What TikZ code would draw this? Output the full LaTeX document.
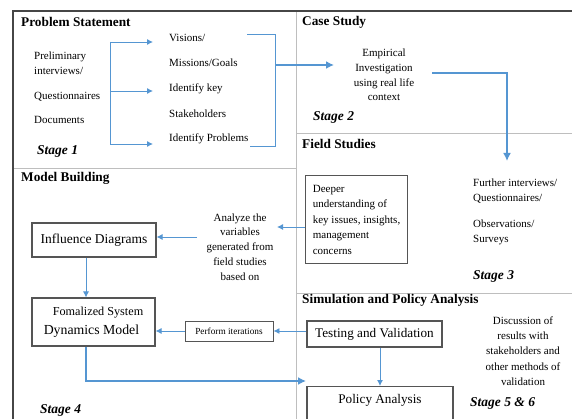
\documentclass[tikz,border=0pt]{standalone}
\usepackage{fontspec}
\setmainfont{Liberation Serif}
\usetikzlibrary{arrows.meta}
\definecolor{ablue}{RGB}{85,150,210}
\definecolor{boxgray}{RGB}{85,85,85}
\definecolor{divgray}{RGB}{190,190,190}
\definecolor{framegray}{RGB}{70,70,70}
\tikzset{
  title/.style={font=\fontsize{13.3}{15}\selectfont\bfseries, anchor=west, inner sep=0pt},
  stagelbl/.style={font=\fontsize{13.5}{15}\selectfont\bfseries\itshape, anchor=west, inner sep=0pt},
  txt/.style={font=\fontsize{11}{13}\selectfont, anchor=west, inner sep=0pt},
  ctxt/.style={font=\fontsize{11}{14.8}\selectfont, align=center, inner sep=0pt},
  box/.style={draw=boxgray, line width=1.1pt, inner sep=0pt},
  thinarrow/.style={draw=ablue, line width=0.9pt, -{Latex[length=6pt,width=6pt]}},
  thickarrow/.style={draw=ablue, line width=2pt, -{Latex[length=8pt,width=8pt]}},
  thinline/.style={draw=ablue, line width=0.9pt},
  divider/.style={draw=divgray, line width=0.9pt},
}
\begin{document}
\begin{tikzpicture}[x=1pt,y=-1pt]
\useasboundingbox (0,0) rectangle (572,419);
\clip (0,0) rectangle (572,419);
\fill[white] (0,0) rectangle (572,419);
% dividers
\draw[divider] (296,11) -- (296,419);
\draw[divider] (13,168) -- (296,168);
\draw[divider] (296,133) -- (572,133);
\draw[divider] (296,293) -- (572,293);
% frame
\draw[framegray, line width=2pt] (13,425) -- (13,11) -- (575,11);

% titles
\node[title] (t1) at (21,22) {Problem Statement};
\node[title] (t2) at (302,22) {Case Study};
\node[title] (t3) at (302,144) {Field Studies};
\node[title] (t4) at (21,178) {Model Building};
\node[title] (t5) at (302,300) {Simulation and Policy Analysis};

% stages
\node[stagelbl] (s1) at (37,151) {Stage 1};
\node[stagelbl] (s2) at (313,117) {Stage 2};
\node[stagelbl] (s3) at (473,276) {Stage 3};
\node[stagelbl] (s4) at (40,410) {Stage 4};
\node[stagelbl] (s56) at (470,403) {Stage 5 \& 6};

% stage 1 content
\node[txt] (pre1) at (34,57) {Preliminary};
\node[txt] (pre2) at (34,71) {interviews/};
\node[txt] (quest) at (34,97) {Questionnaires};
\node[txt] (docs) at (34,120) {Documents};

\node[txt] (vis) at (169,38) {Visions/};
\node[txt] (mis) at (169,63) {Missions/Goals};
\node[txt] (idk) at (169,89) {Identify key};
\node[txt] (stk) at (169,114) {Stakeholders};
\node[txt] (idp) at (169,139) {Identify Problems};

\coordinate (bl1) at (110,42);
\coordinate (bl2) at (110,91);
\coordinate (bl3) at (110,144);
\coordinate (a1) at (153,42);
\coordinate (a2) at (153,91);
\coordinate (a3) at (153,144);
\draw[thinline] (bl1) -- (bl3);
\draw[thinarrow] (bl1) -- (a1);
\draw[thinarrow] (bl2) -- (a2);
\draw[thinarrow] (bl3) -- (a3);

\coordinate (rb1) at (247,34);
\coordinate (rb2) at (275,34);
\coordinate (rb3) at (275,146);
\coordinate (rb4) at (250,146);
\coordinate (rbm) at (275,65);
\draw[thinline] (rb1) -- (rb2) -- (rb3) -- (rb4);

% stage 2
\node[ctxt] (emp) at (384,75) {Empirical\\Investigation\\using real life\\context};
\coordinate (empin) at (334,65);
\draw[thickarrow] (rbm) -- (empin);
\coordinate (empout) at (432,73);
\coordinate (fsin) at (507,161);
\draw[thickarrow] (empout) -| (fsin);

% stage 3
\node[box, minimum width=102, minimum height=88, anchor=north west, align=left,
      font=\fontsize{11}{15.5}\selectfont] (deep) at (305,175)
      {Deeper\\understanding of\\key issues, insights,\\management\\concerns};
\node[txt] (fi1) at (473,183) {Further interviews/};
\node[txt] (fi2) at (473,199) {Questionnaires/};
\node[txt] (ob1) at (473,224) {Observations/};
\node[txt] (ob2) at (473,240) {Surveys};

% stage 4
\node[ctxt] (an) at (240,247) {Analyze the\\variables\\generated from\\field studies\\based on};
\coordinate (anin) at (277,227);
\draw[thinarrow] (deep.west |- 0,227) -- (anin);

\node[box, minimum width=124, minimum height=34, font=\fontsize{13.5}{15}\selectfont] (inf) at (94,240) {Influence Diagrams};
\coordinate (anout) at (197,237);
\draw[thinarrow] (anout) -- (inf.east |- anout);

\node[box, minimum width=123, minimum height=48, align=left, font=\fontsize{13.8}{19}\selectfont] (form) at (93.5,322)
  {\hspace*{9pt}{\fontsize{12.2}{19}\selectfont Fomalized System}\\Dynamics Model};
\coordinate (ix) at (86,0);
\draw[thinarrow] (inf.south -| ix) -- (form.north -| ix);

\node[box, line width=0.9pt, minimum width=88, minimum height=20, font=\fontsize{9.3}{11}\selectfont] (perf) at (229,331) {Perform iterations};
\draw[thinarrow] (perf.west) -- (perf.west -| form.east);

% stage 5 & 6
\node[box, minimum width=135, minimum height=26, font=\fontsize{13.2}{15}\selectfont] (test) at (374.5,334) {Testing and Validation};
\draw[thinarrow] (test.west |- perf.east) -- (perf.east);

\node[box, minimum width=146, anchor=north, font=\fontsize{13.2}{15}\selectfont,
      text height=12pt, text depth=26pt, inner ysep=5pt] (pol) at (380,386) {Policy Analysis};
\draw[thinarrow] (test.south -| pol.north) -- (pol.north);

\coordinate (pin) at (306,381);
\draw[thickarrow] (form.south -| ix) |- (pin);

\node[ctxt, font=\fontsize{11}{15.4}\selectfont] (disc) at (523,351)
  {Discussion of\\results with\\stakeholders and\\other methods of\\validation};
\end{tikzpicture}
\end{document}
